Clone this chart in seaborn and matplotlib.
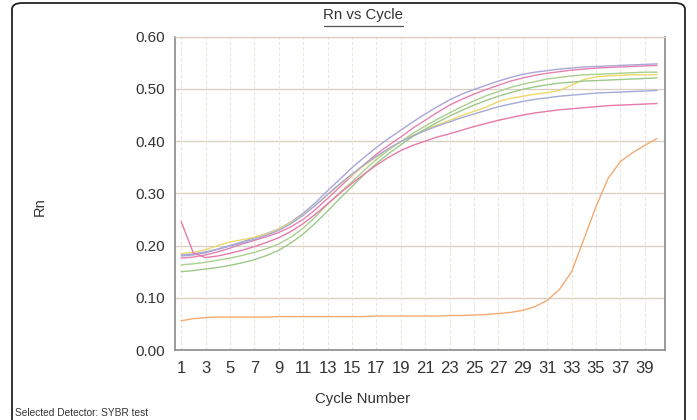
import numpy as np
import pandas as pd
import matplotlib
matplotlib.use("Agg")
import matplotlib.pyplot as plt
from matplotlib.patches import FancyBboxPatch
from matplotlib.lines import Line2D
import seaborn as sns

cycles = list(range(1, 41))

lavender = [.180, .182, .186, .193, .200, .207, .215, .223, .232, .245, .262, .282, .305, .327, .349, .369, .388, .405, .421, .437,
            .452, .466, .479, .490, .499, .507, .515, .522, .528, .532, .535, .538, .540, .542, .543, .544, .545, .546, .547, .548]
pink_top = [.176, .178, .182, .188, .195, .203, .210, .217, .225, .236, .250, .269, .290, .312, .334, .355, .375, .392, .408, .425,
            .440, .455, .469, .480, .490, .499, .507, .515, .521, .526, .530, .533, .536, .538, .540, .541, .542, .543, .544, .545]
green_top = [.163, .165, .168, .172, .176, .181, .187, .194, .203, .216, .233, .255, .279, .301, .322, .344, .365, .383, .399, .415,
             .429, .442, .454, .466, .477, .487, .495, .503, .509, .514, .519, .522, .525, .527, .528, .529, .530, .531, .532, .532]
yellow = [.185, .187, .192, .200, .207, .211, .216, .222, .232, .244, .259, .277, .297, .317, .335, .353, .370, .385, .399, .411,
          .422, .431, .440, .449, .457, .465, .476, .482, .486, .490, .493, .497, .507, .518, .523, .525, .526, .527, .527, .527]
green_low = [.150, .152, .155, .158, .162, .167, .173, .181, .191, .205, .222, .243, .266, .290, .313, .336, .357, .376, .393, .409,
             .423, .436, .448, .459, .469, .478, .486, .493, .499, .504, .508, .511, .513, .515, .516, .517, .518, .519, .520, .521]
blue_low = [.182, .184, .188, .193, .199, .205, .212, .220, .229, .242, .258, .277, .298, .318, .337, .355, .371, .386, .399, .410,
            .420, .429, .437, .445, .452, .459, .466, .471, .476, .480, .483, .486, .488, .490, .492, .493, .494, .495, .496, .497]
pink_low = [.246, .186, .177, .180, .185, .191, .198, .206, .215, .227, .242, .260, .280, .300, .319, .337, .354, .369, .382, .392,
            .400, .408, .414, .421, .428, .434, .440, .445, .450, .454, .457, .460, .462, .464, .466, .468, .469, .470, .471, .472]
orange = [.056, .060, .062, .063, .063, .063, .063, .063, .064, .064, .064, .064, .064, .064, .064, .064, .065, .065, .065, .065,
          .065, .065, .066, .066, .067, .068, .070, .072, .076, .083, .095, .116, .150, .212, .275, .329, .361, .378, .392, .405]

series = {"A": lavender, "B": pink_top, "C": green_top, "D": yellow, "E": green_low,
          "F": blue_low, "G": pink_low, "H": orange}
colors = ["#a9a6d8", "#e681b2", "#a9d08e", "#eed86a", "#9cc98a", "#a3aad8", "#e87aaa", "#f4aa72"]

x_ticks = list(range(1, 40, 2))
y_ticks = [0.0, 0.1, 0.2, 0.3, 0.4, 0.5, 0.6]

df = pd.DataFrame([(k, c, v) for k, vals in series.items() for c, v in zip(cycles, vals)],
                  columns=["well", "cycle", "rn"])

sns.set_style("white")
plt.rcParams["font.family"] = ["Liberation Sans", "DejaVu Sans"]

fig = plt.figure(figsize=(6.97, 4.20), dpi=100)
ax = fig.add_axes([175 / 697, 1 - 350 / 420, 490 / 697, (350 - 36.7) / 420])

# grid
for yv in y_ticks[1:]:
    ax.axhline(yv, color="#d8cdc0", lw=0.9, zorder=0)
for xv in x_ticks:
    ax.axvline(xv, color="#ece6d8", lw=0.8, ls=(0, (3, 2)), zorder=0)

sns.lineplot(data=df, x="cycle", y="rn", hue="well", palette=colors, lw=1.0,
             legend=False, ax=ax, estimator=None, zorder=3)

ax.set_xlim(0.5, 40.65)
ax.set_ylim(0, 0.6)
ax.set_xticks(x_ticks)
ax.set_xticklabels([str(t) for t in x_ticks])
ax.set_yticks(y_ticks)
ax.set_yticklabels([f"{t:.2f}" for t in y_ticks])
ax.tick_params(axis="y", length=4, width=0.8, color="#888888", pad=3, labelsize=11, labelcolor="#333333")
ax.tick_params(axis="x", length=2, width=0.8, color="#888888", pad=6, labelsize=12, labelcolor="#333333")
ax.set_xlabel("")
ax.set_ylabel("")
for s in ["left", "bottom", "right"]:
    ax.spines[s].set_color("#8a8a8a")
    ax.spines[s].set_linewidth(1.2)
ax.spines["top"].set_color("#d8cdc0")
ax.spines["top"].set_linewidth(0.9)

# titles and labels
fig.text(363 / 697, 1 - 15 / 420, "Rn vs Cycle", ha="center", va="center", fontsize=10.8, color="#333333")
fig.add_artist(Line2D([324 / 697, 403 / 697], [1 - 25.5 / 420, 1 - 25.5 / 420], color="#555555", lw=0.9))
fig.text(363 / 697, 1 - 399 / 420, "Cycle Number", ha="center", va="center", fontsize=10.8, color="#333333")
fig.text(40 / 697, 1 - 207 / 420, "Rn", ha="center", va="center", rotation=90, fontsize=10.5, color="#333333")
fig.text(15 / 697, 1 - 413 / 420, "Selected Detector: SYBR test", ha="left", va="center", fontsize=7.3, color="#333333")

# outer frame (top edge near the image top, bottom running off the image)
frame = FancyBboxPatch((12 / 697, -0.3), (685 - 12) / 697, 1.3 - 3 / 420, transform=fig.transFigure,
                       boxstyle="round,pad=0,rounding_size=0.015", fill=False, ec="#222222", lw=1.3)
fig.add_artist(frame)

fig.savefig("out.png", dpi=100)
